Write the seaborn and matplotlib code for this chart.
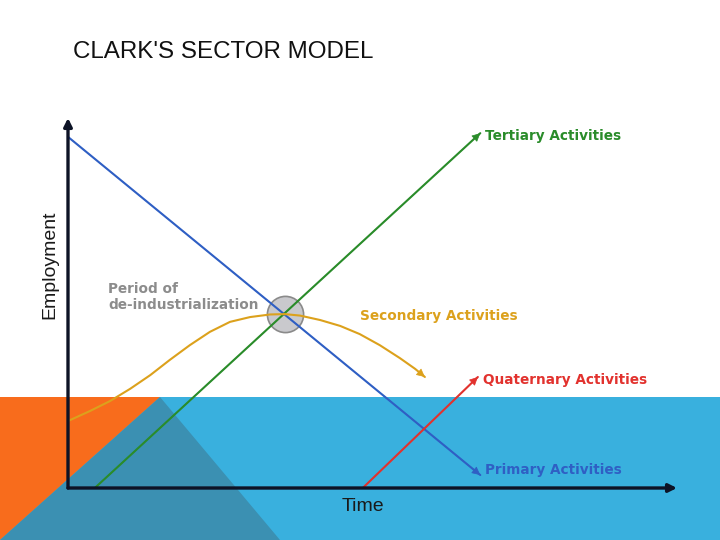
import numpy as np
import pandas as pd
import seaborn as sns
import matplotlib.pyplot as plt
from matplotlib.patches import Polygon

sns.set_style("white")
plt.rcParams['font.family'] = ['DejaVu Sans']

# data (time / employment in arbitrary 0-100 units)
time_primary = [0, 67.7]
emp_primary = [94.9, 3.5]
time_tertiary = [4.4, 67.7]
emp_tertiary = [0, 95.9]
time_quaternary = [48.4, 67.3]
emp_quaternary = [0, 30.0]
time_secondary = [0, 3.6, 6.9, 10.2, 13.5, 16.7, 20.0, 23.3, 26.6, 29.9,
                  33.2, 35.6, 38.1, 41.4, 44.7, 47.9, 51.2, 54.5, 57.0, 58.6]
emp_secondary = [18.1, 20.8, 23.5, 26.8, 30.5, 34.6, 38.6, 42.2, 44.9, 46.2,
                 46.9, 47.0, 46.6, 45.4, 43.8, 41.6, 38.6, 35.1, 32.2, 30.0]
crossover = (35.6, 47.0)

series = [
    ("Primary Activities", time_primary, emp_primary, "#2f5fc4", 4.9),
    ("Tertiary Activities", time_tertiary, emp_tertiary, "#2a8c2a", 95.1),
    ("Quaternary Activities", time_quaternary, emp_quaternary, "#e2322e", 29.2),
    ("Secondary Activities", time_secondary, emp_secondary, "#dca11c", 46.5),
]

fig = plt.figure(figsize=(7.2, 5.4), dpi=100)

# slide background
bg = fig.add_axes([0, 0, 1, 1])
bg.set_xlim(0, 720)
bg.set_ylim(540, 0)
bg.axis('off')
bg.add_patch(Polygon([[0, 397], [720, 397], [720, 540], [0, 540]], color="#39b0de", lw=0))
bg.add_patch(Polygon([[0, 397], [160, 397], [0, 540]], color="#f86c1c", lw=0))
bg.add_patch(Polygon([[160, 397], [280, 540], [0, 540]], color="#3b90b2", lw=0))
bg.text(73, 52, "CLARK'S SECTOR MODEL", fontsize=17.4, color="#111111",
        ha='left', va='center', family='Liberation Sans')

# diagram
ax = fig.add_axes([68 / 720, 52 / 540, 609 / 720, 370 / 540])
ax.patch.set_alpha(0)
ax.set_xlim(0, 100)
ax.set_ylim(0, 100)
ax.axis('off')

ax.scatter([crossover[0]], [crossover[1]], s=680, color="#c9c9cd",
           edgecolor="#8a8a8a", linewidth=1.2, zorder=1, clip_on=False)

for name, t, e, col, ly in series:
    df = pd.DataFrame({"time": t, "emp": e})
    sns.lineplot(data=df, x="time", y="emp", sort=False, color=col,
                 lw=1.5, ax=ax, clip_on=False, zorder=3,
                 solid_joinstyle='round', solid_capstyle='round')
    ax.annotate("", xy=(t[-1], e[-1]), xytext=(t[-2], e[-2]),
                arrowprops=dict(arrowstyle="-|>", color=col, lw=0.5,
                                mutation_scale=13, shrinkA=0, shrinkB=0),
                annotation_clip=False, zorder=3)
    lx = t[-1] + 0.8 if name != "Secondary Activities" else 47.9
    ax.text(lx, ly, name, color=col, fontsize=9.8, fontweight='bold',
            ha='left', va='center')

# axes arrows
for end in [(100, 0), (0, 100)]:
    ax.annotate("", xy=end, xytext=(0, 0),
                arrowprops=dict(arrowstyle="-|>", color="#0d1326", lw=2.4,
                                mutation_scale=12, shrinkA=0, shrinkB=0),
                annotation_clip=False)

ax.text(6.6, 51.6, "Period of\nde-industrialization", color="#8c8c8c",
        fontsize=9.8, fontweight='bold', ha='left', va='center', linespacing=1.25)
ax.text(-2.9, 60.3, "Employment", rotation=90, fontsize=14, color="#1a1a1a",
        ha='center', va='center', family='Liberation Sans')
ax.text(48.4, -4.9, "Time", fontsize=14, color="#1a1a1a", ha='center',
        va='center', family='Liberation Sans')

fig.savefig("out.png", dpi=100)
